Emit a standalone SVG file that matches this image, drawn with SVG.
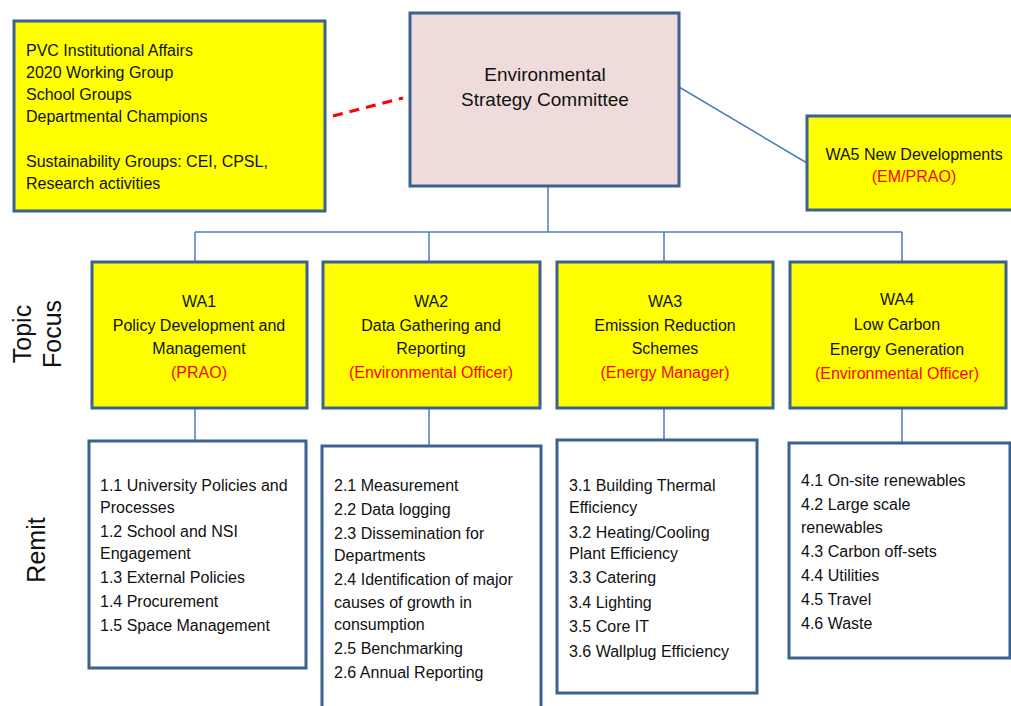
<svg xmlns="http://www.w3.org/2000/svg" width="1011" height="706" viewBox="0 0 1011 706">
<style>
text{font-family:"Liberation Sans",Arial,sans-serif;fill:#111;font-size:16px}
.box{stroke:#3B6190;stroke-width:3;fill:#fff}
.yel{fill:#FFFF00}
.esc{fill:#F0DBDB}
.red{fill:#FF0000}
.c{text-anchor:middle}
.conn{stroke:#4A7EBB;stroke-width:1.5;fill:none}
.side{font-size:25px}
</style>
<g id="connectors">
<path class="conn" d="M548,186V232M195,232H902M195,232V262M429,232V262M664,232V262M902,232V262"/>
<path class="conn" d="M195,408V441M429,408V446M664,408V440M902,408V443"/>
<path class="conn" d="M679,87L807,163"/>
<path d="M333,116L403,98" stroke="#FF0000" stroke-width="3" stroke-dasharray="10,7" fill="none"/>
</g>
<g id="groups">
<rect class="box yel" x="14" y="21" width="311" height="190"/>
<text x="26" y="56">PVC Institutional  Affairs</text>
<text x="26" y="78">2020 Working Group</text>
<text x="26" y="100">School Groups</text>
<text x="26" y="122">Departmental  Champions</text>
<text x="26" y="167">Sustainability Groups: CEI, CPSL,</text>
<text x="26" y="189">Research activities</text>
</g>
<g id="esc">
<rect class="box esc" x="410" y="13" width="269" height="173"/>
<text class="c" x="545" y="81" style="font-size:19px">Environmental</text>
<text class="c" x="545" y="106" style="font-size:19px">Strategy Committee</text>
</g>
<g id="wa5">
<rect class="box yel" x="807" y="116" width="215" height="94"/>
<text class="c" x="914" y="160">WA5 New Developments</text>
<text class="c red" x="914" y="182">(EM/PRAO)</text>
</g>
<g id="topic-focus">
<text class="side c" transform="translate(31,334) rotate(-90)">Topic</text>
<text class="side c" transform="translate(61,334) rotate(-90)">Focus</text>
</g>
<g id="remit-label">
<text class="side c" transform="translate(45,550) rotate(-90)">Remit</text>
</g>
<g id="wa1">
<rect class="box yel" x="92" y="262" width="215" height="146"/>
<text class="c" x="199" y="307">WA1</text>
<text class="c" x="199" y="331">Policy Development  and</text>
<text class="c" x="199" y="354">Management</text>
<text class="c red" x="199" y="378">(PRAO)</text>
</g>
<g id="wa2">
<rect class="box yel" x="323" y="262" width="217" height="146"/>
<text class="c" x="431" y="307">WA2</text>
<text class="c" x="431" y="331">Data Gathering and</text>
<text class="c" x="431" y="354">Reporting</text>
<text class="c red" x="431" y="378">(Environmental Officer)</text>
</g>
<g id="wa3">
<rect class="box yel" x="557" y="262" width="216" height="146"/>
<text class="c" x="665" y="307">WA3</text>
<text class="c" x="665" y="331">Emission Reduction</text>
<text class="c" x="665" y="354">Schemes</text>
<text class="c red" x="665" y="378">(Energy Manager)</text>
</g>
<g id="wa4">
<rect class="box yel" x="790" y="262" width="216" height="146"/>
<text class="c" x="897" y="305">WA4</text>
<text class="c" x="897" y="330">Low Carbon</text>
<text class="c" x="897" y="355">Energy Generation</text>
<text class="c red" x="897" y="379">(Environmental Officer)</text>
</g>
<g id="remit1">
<rect class="box" x="89" y="441" width="217" height="227"/>
<text x="100" y="491">1.1 University Policies and</text>
<text x="100" y="513">Processes</text>
<text x="100" y="537">1.2 School and NSI</text>
<text x="100" y="559">Engagement</text>
<text x="100" y="583">1.3 External Policies</text>
<text x="100" y="607">1.4 Procurement</text>
<text x="100" y="631">1.5 Space Management</text>
</g>
<g id="remit2">
<rect class="box" x="322" y="446" width="219" height="275"/>
<text x="334" y="491">2.1 Measurement</text>
<text x="334" y="515">2.2 Data logging</text>
<text x="334" y="539">2.3 Dissemination  for</text>
<text x="334" y="561">Departments</text>
<text x="334" y="585">2.4 Identification of major</text>
<text x="334" y="608">causes of growth in</text>
<text x="334" y="630">consumption</text>
<text x="334" y="654">2.5 Benchmarking</text>
<text x="334" y="678">2.6 Annual Reporting</text>
</g>
<g id="remit3">
<rect class="box" x="557" y="440" width="200" height="253"/>
<text x="569" y="491">3.1 Building Thermal</text>
<text x="569" y="513">Efficiency</text>
<text x="569" y="538">3.2 Heating/Cooling</text>
<text x="569" y="559">Plant Efficiency</text>
<text x="569" y="583">3.3 Catering</text>
<text x="569" y="608">3.4 Lighting</text>
<text x="569" y="632">3.5 Core IT</text>
<text x="569" y="657">3.6 Wallplug Efficiency</text>
</g>
<g id="remit4">
<rect class="box" x="789" y="443" width="221" height="215"/>
<text x="801" y="486">4.1 On-site renewables</text>
<text x="801" y="510">4.2 Large scale</text>
<text x="801" y="533">renewables</text>
<text x="801" y="557">4.3 Carbon off-sets</text>
<text x="801" y="581">4.4 Utilities</text>
<text x="801" y="605">4.5 Travel</text>
<text x="801" y="629">4.6 Waste</text>
</g>
</svg>
